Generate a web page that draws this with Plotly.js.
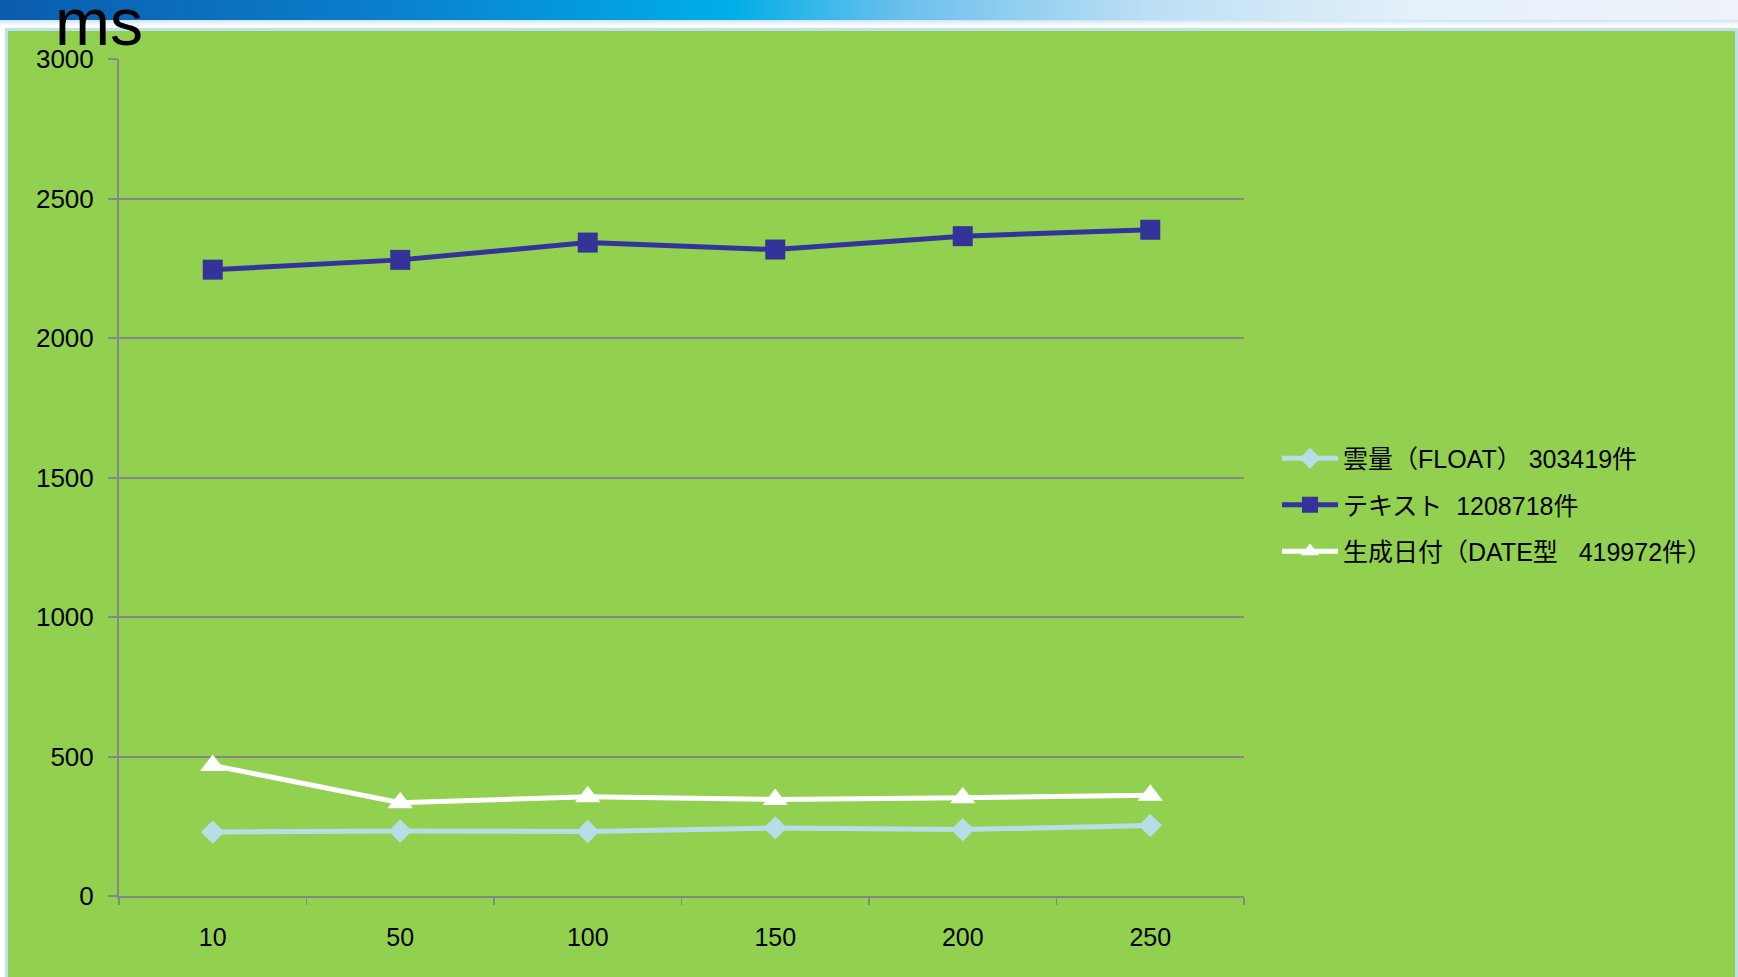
<!DOCTYPE html>
<html>
<head>
<meta charset="utf-8">
<script src="https://cdn.plot.ly/plotly-3.0.1.min.js"></script>
<style>
  html, body { margin: 0; padding: 0; width: 1738px; height: 977px; overflow: hidden; background: #ffffff; }
  #band { position: absolute; left: 0; top: 0; width: 1738px; height: 20px;
          background: linear-gradient(to right, #0b5cae 0%, #0a7fcc 22%, #00aee8 42%, #6cc0ec 52%, #bcdff4 66%, #e6f1fa 82%, #eef2fa 100%); }
  #bandfade { position: absolute; left: 0; top: 20px; width: 1738px; height: 6px;
          background: linear-gradient(to bottom, #cfe6f5, #ffffff); }
  #panel { position: absolute; left: 5px; top: 28px; width: 1727px; height: 949px;
           background: #92d050; border: 3px solid #bfe1ec; border-bottom: none; }
  #chart { position: absolute; left: 0; top: 0; width: 1738px; height: 977px; }
</style>
</head>
<body>
<div id="band"></div>
<div id="bandfade"></div>
<div id="panel"></div>
<div id="chart"></div>
<script>
// Query time (ms) per batch size
const categories = ['10', '50', '100', '150', '200', '250'];
const floatMs = [229, 233, 231, 244, 238, 253];
const textMs = [2245, 2280, 2342, 2317, 2365, 2388];
const dateMs = [468, 334, 356, 346, 352, 361];
const sp = n => '\u00a0'.repeat(n);
const seriesNames = [
  '雲量（FLOAT）' + sp(1) + '303419件',
  'テキスト' + sp(2) + '1208718件',
  '生成日付（DATE型' + sp(3) + '419972件）'
];
const yTicks = [0, 500, 1000, 1500, 2000, 2500, 3000];

const font = '"Liberation Sans", Arial, "Noto Sans CJK JP", sans-serif';

// plot area in pixels, used to place items outside it
const plotL = 119, plotR = 1244, plotT = 59, plotB = 896;
const px = v => (v - plotL) / (plotR - plotL);
const py = v => (plotB - v) / (plotB - plotT);

const traces = [
  {
    x: categories, y: floatMs, name: seriesNames[0], legendgroup: 'a',
    mode: 'lines+markers', type: 'scatter',
    line: { color: '#b7dee8', width: 5 },
    marker: { symbol: 'diamond', size: 18, color: '#b7dee8' }
  },
  {
    x: categories, y: textMs, name: seriesNames[1], legendgroup: 'b',
    mode: 'lines+markers', type: 'scatter',
    line: { color: '#333399', width: 5 },
    marker: { symbol: 'square', size: 20, color: '#333399' }
  },
  {
    x: categories, y: dateMs, name: seriesNames[2], legendgroup: 'c',
    mode: 'lines+markers', type: 'scatter',
    line: { color: '#ffffff', width: 5 },
    marker: { symbol: 'triangle-up', size: 22, color: '#ffffff' }
  }
];

const layout = {
  width: 1738, height: 977,
  paper_bgcolor: 'rgba(0,0,0,0)',
  plot_bgcolor: 'rgba(0,0,0,0)',
  margin: { l: plotL, r: 1738 - plotR, t: plotT, b: 977 - plotB },
  font: { family: font, color: '#000000', size: 24 },
  showlegend: true,
  legend: {
    x: px(1277), xanchor: 'left',
    y: py(505), yanchor: 'middle',
    bgcolor: 'rgba(0,0,0,0)',
    font: { family: font, size: 25, color: '#000000' },
    tracegroupgap: 11,
    itemwidth: 56
  },
  xaxis: {
    type: 'category',
    tickson: 'boundaries',
    ticks: 'outside', ticklen: 7, tickwidth: 1.5, tickcolor: '#868686',
    showline: true, linecolor: '#868686', linewidth: 2,
    showgrid: false, zeroline: false,
    tickfont: { family: font, size: 25 },
    ticklabelstandoff: 18,
    range: [-0.5, 5.5]
  },
  yaxis: {
    range: [0, 3000],
    tickvals: yTicks,
    ticktext: yTicks.map(String),
    ticks: 'outside', ticklen: 9, tickwidth: 2, tickcolor: '#868686',
    showline: true, linecolor: '#868686', linewidth: 2,
    showgrid: true, gridcolor: '#868686', gridwidth: 2,
    zeroline: false,
    tickfont: { family: font, size: 26 },
    ticklabelstandoff: 9
  },
  annotations: [
    {
      text: 'ms', xref: 'paper', yref: 'paper',
      x: px(98.6), y: py(22), xanchor: 'center', yanchor: 'middle',
      showarrow: false,
      font: { family: font, size: 66, color: '#000000' }
    }
  ]
};

Plotly.newPlot('chart', traces, layout, { staticPlot: true, displayModeBar: false });
</script>
</body>
</html>
